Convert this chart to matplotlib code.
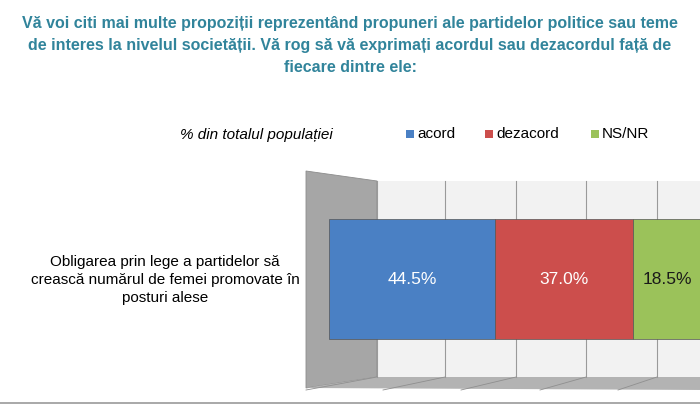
import matplotlib.pyplot as plt
from matplotlib.patches import Polygon, Rectangle

plt.rcParams["font.family"] = "Liberation Sans"

category = "Obligarea prin lege a partidelor să\ncrească numărul de femei promovate în\nposturi alese"
series = ["acord", "dezacord", "NS/NR"]
values = [44.5, 37.0, 18.5]
colors = ["#4a80c4", "#cc4e4c", "#9bc25a"]
text_colors = ["white", "white", "#1a1a1a"]

W, H = 700, 405
fig = plt.figure(figsize=(7, 4.05), dpi=100)

def px(x, y):
    return (x / W, 1 - y / H)

# 3D style backdrop (decoration in figure pixels)
deco = fig.add_axes([0, 0, 1, 1])
deco.set_xlim(0, W)
deco.set_ylim(H, 0)
deco.axis("off")
deco.add_patch(Rectangle((377, 181), 330, 196, facecolor="#f2f2f2", edgecolor="none"))
deco.add_patch(Polygon([(306, 171), (377, 181), (377, 377), (306, 388)], facecolor="#a6a6a6", edgecolor="#8c8c8c", lw=0.6))
deco.add_patch(Polygon([(306, 388), (377, 377), (705, 377), (705, 390)], facecolor="#b3b3b3", edgecolor="none"))
for gx, fx in zip([377, 445, 516, 586, 657], [306, 383, 461, 540, 618]):
    deco.plot([gx, gx], [181, 377], color="#9a9a9a", lw=0.8)
    deco.plot([gx, fx], [377, 390], color="#8f8f8f", lw=0.6)
deco.plot([0, W], [403, 403], color="#999999", lw=1.2)

# title
title = ("Vă voi citi mai multe propoziții reprezentând propuneri ale partidelor politice sau teme\n"
         "de interes la nivelul societății. Vă rog să vă exprimați acordul sau dezacordul față de\n"
         "fiecare dintre ele:")
fig.text(0.5, 1 - 16 / H, title, ha="center", va="top", fontsize=11.5, fontweight="bold",
         color="#31849b", linespacing=1.6)
fig.text(*px(256, 135), "% din totalul populației", ha="center", va="center", fontsize=11, style="italic")

# legend
for name, c, sx in zip(series, colors, [406, 485, 591]):
    deco.add_patch(Rectangle((sx, 130), 8, 8, facecolor=c, edgecolor="none"))
    deco.text(sx + 11, 134, name, va="center", ha="left", fontsize=11)

# the bar itself
ax = fig.add_axes([329 / W, 1 - 377 / H, 373 / W, 196 / H])
ax.set_xlim(0, 100)
ax.set_ylim(-0.5, 0.5)
ax.axis("off")
left = 0
for v, c, tc in zip(values, colors, text_colors):
    ax.barh(0, v, left=left, height=0.612, color=c, edgecolor="#555555", linewidth=0.5)
    ax.text(left + v / 2, 0, f"{v:.1f}%", ha="center", va="center", fontsize=12.5, color=tc)
    left += v

fig.text(*px(165, 280), category, ha="center", va="center", fontsize=11, linespacing=1.35)

fig.savefig("out.png", dpi=100)
